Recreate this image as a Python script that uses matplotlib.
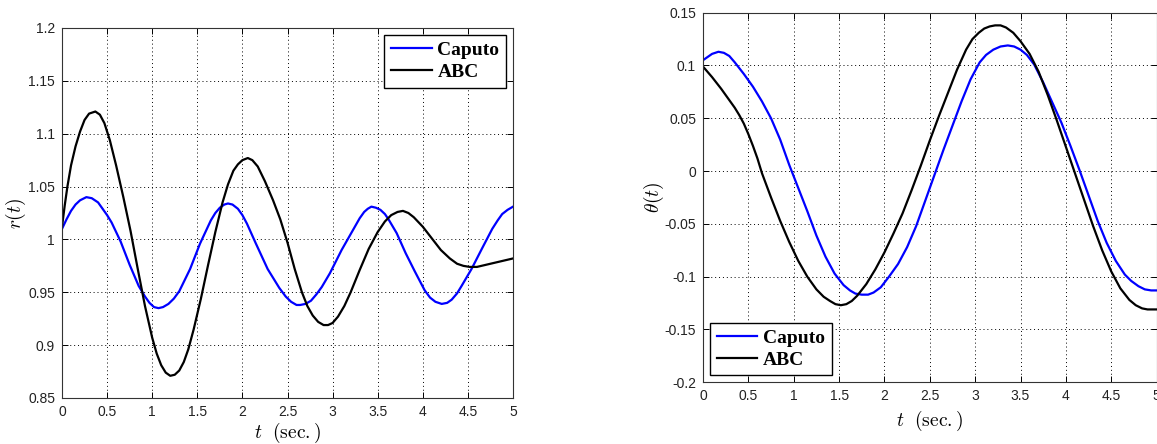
import matplotlib
matplotlib.use("Agg")
import matplotlib.pyplot as plt

# r(t) panel - Caputo
t_r_cap = [0, 0.05, 0.1, 0.15, 0.2, 0.27, 0.33, 0.4, 0.45, 0.5, 0.55, 0.65, 0.75, 0.85, 0.92,
           0.97, 1.02, 1.07, 1.12, 1.18, 1.24, 1.3, 1.42, 1.53, 1.65, 1.7, 1.75, 1.8, 1.84,
           1.89, 1.95, 2.0, 2.05, 2.15, 2.28, 2.41, 2.48, 2.54, 2.6, 2.64, 2.7, 2.76, 2.82,
           2.88, 2.97, 3.1, 3.24, 3.3, 3.35, 3.39, 3.43, 3.48, 3.53, 3.58, 3.62, 3.71, 3.81,
           3.91, 4.02, 4.08, 4.14, 4.21, 4.27, 4.32, 4.38, 4.43, 4.54, 4.66, 4.77, 4.83, 4.88,
           4.94, 5.0]
r_cap = [1.010, 1.019, 1.027, 1.033, 1.037, 1.040, 1.039, 1.035, 1.029, 1.023, 1.016, 0.998,
         0.976, 0.956, 0.946, 0.940, 0.936, 0.935, 0.936, 0.939, 0.944, 0.951, 0.972, 0.996,
         1.018, 1.025, 1.030, 1.033, 1.034, 1.033, 1.029, 1.023, 1.015, 0.996, 0.972, 0.954,
         0.946, 0.941, 0.938, 0.938, 0.939, 0.942, 0.948, 0.955, 0.968, 0.990, 1.011, 1.020,
         1.026, 1.029, 1.031, 1.030, 1.028, 1.024, 1.019, 1.006, 0.987, 0.970, 0.952, 0.945,
         0.941, 0.939, 0.940, 0.943, 0.949, 0.956, 0.972, 0.992, 1.010, 1.018, 1.024, 1.028,
         1.031]

# r(t) panel - ABC
t_r_abc = [0, 0.03, 0.06, 0.1, 0.15, 0.2, 0.25, 0.3, 0.37, 0.42, 0.47, 0.53, 0.6, 0.68, 0.76,
           0.84, 0.92, 1.0, 1.05, 1.1, 1.15, 1.2, 1.25, 1.3, 1.35, 1.4, 1.46, 1.54, 1.62, 1.7,
           1.78, 1.84, 1.9, 1.95, 2.0, 2.06, 2.11, 2.17, 2.25, 2.34, 2.42, 2.5, 2.58, 2.66,
           2.72, 2.78, 2.84, 2.9, 2.95, 3.0, 3.06, 3.13, 3.2, 3.3, 3.4, 3.5, 3.58, 3.65, 3.72,
           3.78, 3.84, 3.9, 4.0, 4.1, 4.2, 4.3, 4.38, 4.45, 4.52, 4.6, 4.7, 4.85, 5.0]
r_abc = [1.012, 1.032, 1.050, 1.070, 1.088, 1.102, 1.113, 1.119, 1.121, 1.118, 1.110, 1.094,
         1.070, 1.040, 1.008, 0.972, 0.937, 0.907, 0.892, 0.881, 0.874, 0.871, 0.872, 0.876,
         0.884, 0.896, 0.915, 0.944, 0.976, 1.007, 1.035, 1.052, 1.065, 1.071, 1.075, 1.077,
         1.075, 1.069, 1.055, 1.037, 1.019, 0.997, 0.972, 0.950, 0.937, 0.928, 0.922, 0.919,
         0.919, 0.921, 0.927, 0.937, 0.950, 0.971, 0.991, 1.007, 1.017, 1.023, 1.026, 1.027,
         1.025, 1.021, 1.012, 1.001, 0.990, 0.982, 0.977, 0.975, 0.974, 0.974, 0.976, 0.979,
         0.982]

# theta(t) panel - Caputo
t_th_cap = [0, 0.05, 0.1, 0.17, 0.23, 0.29, 0.35, 0.45, 0.55, 0.65, 0.75, 0.85, 0.95, 1.05,
            1.15, 1.25, 1.35, 1.45, 1.55, 1.62, 1.68, 1.75, 1.82, 1.88, 1.96, 2.05, 2.15, 2.25,
            2.35, 2.45, 2.55, 2.65, 2.75, 2.85, 2.95, 3.05, 3.12, 3.2, 3.28, 3.36, 3.43, 3.5,
            3.57, 3.65, 3.75, 3.85, 3.95, 4.05, 4.15, 4.25, 4.35, 4.45, 4.55, 4.65, 4.72, 4.8,
            4.87, 4.94, 5.0]
th_cap = [0.105, 0.108, 0.111, 0.113, 0.112, 0.109, 0.103, 0.092, 0.080, 0.066, 0.050, 0.030,
          0.006, -0.016, -0.038, -0.061, -0.081, -0.097, -0.108, -0.113, -0.116, -0.117,
          -0.117, -0.115, -0.110, -0.100, -0.088, -0.072, -0.052, -0.028, -0.004, 0.020, 0.043,
          0.066, 0.087, 0.103, 0.110, 0.115, 0.118, 0.119, 0.118, 0.115, 0.110, 0.101, 0.084,
          0.065, 0.046, 0.024, 0.001, -0.023, -0.047, -0.068, -0.085, -0.098, -0.104, -0.109,
          -0.112, -0.113, -0.113]

# theta(t) panel - ABC
t_th_abc = [0, 0.1, 0.2, 0.3, 0.35, 0.4, 0.45, 0.5, 0.55, 0.6, 0.65, 0.75, 0.85, 0.95, 1.05,
            1.15, 1.25, 1.33, 1.4, 1.46, 1.52, 1.58, 1.64, 1.7, 1.8, 1.9, 2.0, 2.1, 2.2, 2.3,
            2.4, 2.5, 2.6, 2.7, 2.8, 2.9, 2.97, 3.04, 3.1, 3.16, 3.22, 3.28, 3.34, 3.42, 3.5,
            3.6, 3.7, 3.8, 3.9, 4.0, 4.1, 4.2, 4.3, 4.4, 4.5, 4.6, 4.7, 4.77, 4.84, 4.9, 5.0]
th_abc = [0.099, 0.089, 0.078, 0.066, 0.060, 0.053, 0.045, 0.035, 0.024, 0.012, -0.002, -0.025,
          -0.047, -0.067, -0.085, -0.100, -0.112, -0.119, -0.123, -0.126, -0.127, -0.126,
          -0.123, -0.118, -0.107, -0.093, -0.077, -0.059, -0.040, -0.018, 0.005, 0.029, 0.052,
          0.074, 0.096, 0.115, 0.125, 0.131, 0.135, 0.137, 0.138, 0.138, 0.136, 0.131, 0.123,
          0.111, 0.094, 0.072, 0.048, 0.023, -0.002, -0.027, -0.052, -0.075, -0.095, -0.111,
          -0.122, -0.127, -0.130, -0.131, -0.131]

xticks = [0, 0.5, 1, 1.5, 2, 2.5, 3, 3.5, 4, 4.5, 5]
xtick_labels = ['0', '0.5', '1', '1.5', '2', '2.5', '3', '3.5', '4', '4.5', '5']
r_ticks = [0.85, 0.9, 0.95, 1.0, 1.05, 1.1, 1.15, 1.2]
r_tick_labels = ['0.85', '0.9', '0.95', '1', '1.05', '1.1', '1.15', '1.2']
th_ticks = [-0.2, -0.15, -0.1, -0.05, 0, 0.05, 0.1, 0.15]
th_tick_labels = ['-0.2', '-0.15', '-0.1', '-0.05', '0', '0.05', '0.1', '0.15']

plt.rcParams['mathtext.fontset'] = 'cm'
plt.rcParams['font.family'] = 'Liberation Sans'

fig = plt.figure(figsize=(11.57, 4.44), dpi=100)
ax1 = fig.add_axes([62 / 1157, 1 - 398 / 444, 451 / 1157, 370 / 444])
ax2 = fig.add_axes([703 / 1157, 1 - 382.3 / 444, 453.6 / 1157, 369.6 / 444])

legend_font = {'family': 'Liberation Serif', 'weight': 'bold', 'size': 14}


def style_axes(ax, yticks, ylabels, ylim):
    ax.set_xlim(0, 5)
    ax.set_ylim(*ylim)
    ax.set_xticks(xticks)
    ax.set_xticklabels(xtick_labels)
    ax.set_yticks(yticks)
    ax.set_yticklabels(ylabels)
    ax.tick_params(direction='in', top=True, right=True, length=4, width=0.7,
                   labelsize=10, labelcolor='#222222', pad=5)
    ax.grid(True, linestyle=(0, (1, 3)), color='black', linewidth=0.7)
    for s in ax.spines.values():
        s.set_linewidth(0.8)
        s.set_color('#333333')


def add_legend(ax, loc):
    ax.legend(loc=loc, prop=legend_font, fancybox=False, edgecolor='black',
              framealpha=1, handlelength=2.1, handletextpad=0.3, borderaxespad=0.35,
              labelspacing=0.2, borderpad=0.35)


ax1.plot(t_r_cap, r_cap, color='#0000ff', linewidth=1.6, label='Caputo')
ax1.plot(t_r_abc, r_abc, color='black', linewidth=1.6, label='ABC')
style_axes(ax1, r_ticks, r_tick_labels, (0.85, 1.2))
ax1.set_xlabel(r'$t\ \ \mathrm{(sec.)}$', fontsize=14, labelpad=1.5)
ax1.set_ylabel(r'$r(t)$', fontsize=14, labelpad=0)
add_legend(ax1, 'upper right')

ax2.plot(t_th_cap, th_cap, color='#0000ff', linewidth=1.6, label='Caputo')
ax2.plot(t_th_abc, th_abc, color='black', linewidth=1.6, label='ABC')
style_axes(ax2, th_ticks, th_tick_labels, (-0.2, 0.15))
ax2.set_xlabel(r'$t\ \ \mathrm{(sec.)}$', fontsize=14, labelpad=4)
ax2.set_ylabel(r'$\theta(t)$', fontsize=14, labelpad=-1)
add_legend(ax2, 'lower left')

fig.savefig('out.png', dpi=100)
